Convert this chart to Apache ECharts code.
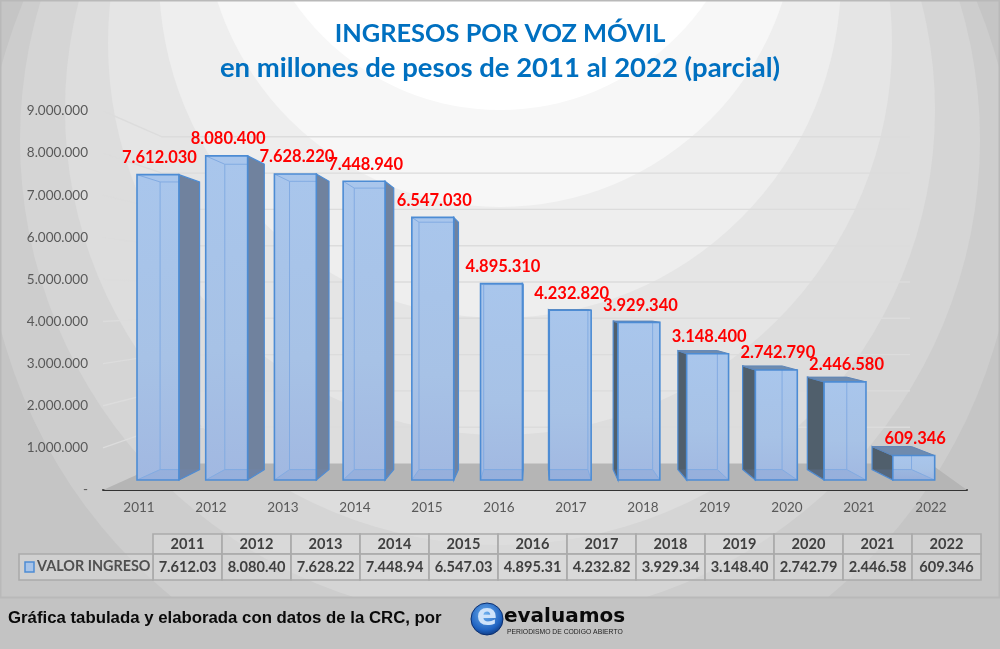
<!DOCTYPE html>
<html>
<head>
<meta charset="utf-8">
<style>
  html, body { margin: 0; padding: 0; background: #c3c3c3; }
  #chart { width: 1000px; height: 649px; }
</style>
<script src="https://cdn.jsdelivr.net/npm/echarts@6/dist/echarts.min.js"></script>
</head>
<body>
<div id="chart"></div>
<script>
const years = ["2011", "2012", "2013", "2014", "2015", "2016", "2017", "2018", "2019", "2020", "2021", "2022"];
const ingresos = [7612030, 8080400, 7628220, 7448940, 6547030, 4895310, 4232820, 3929340, 3148400, 2742790, 2446580, 609346];
const tableValues = ["7.612.03", "8.080.40", "7.628.22", "7.448.94", "6.547.03", "4.895.31", "4.232.82", "3.929.34", "3.148.40", "2.742.79", "2.446.58", "609.346"];
const yTicks = [0, 1000000, 2000000, 3000000, 4000000, 5000000, 6000000, 7000000, 8000000, 9000000];

// fake 3d: every bar recedes towards this point
const VP_X = 535;
const VP_Y = 300;
const DEPTH = 0.058;

const FONT = "Lato";
const back = (x, y) => [x + (VP_X - x) * DEPTH, y + (VP_Y - y) * DEPTH];
const dots = (v) => String(v).replace(/\B(?=(\d{3})+$)/g, ".");

function poly(points, fill, stroke, width) {
  return {
    type: "polygon",
    shape: { points },
    style: { fill: fill || "none", stroke: stroke || "none", lineWidth: width || 1 },
  };
}

function line(a, b, color) {
  return {
    type: "line",
    shape: { x1: a[0], y1: a[1], x2: b[0], y2: b[1] },
    style: { stroke: color, lineWidth: 1 },
  };
}

const frontFill = {
  type: "linear",
  x: 0,
  y: 0,
  x2: 0,
  y2: 1,
  colorStops: [
    { offset: 0, color: "#a9c6ec" },
    { offset: 0.6, color: "#a7c2e6" },
    { offset: 1, color: "#a1b8e1" },
  ],
};

function renderBar(params, api) {
  const idx = api.value(0);
  const top = api.coord([idx, api.value(1)]);
  const base = api.coord([idx, 0]);
  const w = api.size([1, 0])[0] * 0.61;
  const l = top[0] - w / 2;
  const r = top[0] + w / 2;
  const t = top[1];
  const b = base[1];

  const lt = back(l, t), rt = back(r, t), lb = back(l, b), rb = back(r, b);
  const edge = "#4d8cd4";
  const thin = "#82abe2";
  const kids = [];

  // visible side
  if (rt[0] > r + 0.5) {
    kids.push(poly([[r, t], rt, rb, [r, b]], "#70829e", edge, 1.2));
  }
  if (lt[0] < l - 0.5) {
    kids.push(poly([[l, t], lt, lb, [l, b]], "#505f6c", edge, 1.2));
  }
  // lid, only seen from above on the low bars
  if (lt[1] < t) {
    kids.push(poly([[l, t], [r, t], rt, lt], "#6f8bae", "#5f86b8", 1));
  }
  // front
  kids.push(poly([[l, t], [r, t], [r, b], [l, b]], frontFill));
  // box floor seen through the front
  kids.push(poly([[l, b], [r, b], rb, lb], "rgba(110,140,200,0.2)"));
  // back edges seen through the front
  const il = Math.max(lt[0], l);
  const ir = Math.min(rt[0], r);
  if (lt[0] > l + 0.5) kids.push(line([il, Math.max(lt[1], t)], [il, lb[1]], thin));
  if (rt[0] < r - 0.5) kids.push(line([ir, Math.max(rt[1], t)], [ir, rb[1]], thin));
  kids.push(line([il, lb[1]], [ir, rb[1]], thin));
  kids.push(line([l, b], lb[0] >= l ? lb : [l, b], thin));
  kids.push(line([r, b], rb[0] <= r ? rb : [r, b], thin));
  if (lt[1] > t) {
    kids.push(line([il, lt[1]], [ir, rt[1]], thin));
    kids.push(line([l, t], lt[0] >= l ? lt : [l, t], thin));
    kids.push(line([r, t], rt[0] <= r ? rt : [r, t], thin));
  }
  kids.push(poly([[l, t], [r, t], [r, b], [l, b]], null, edge, 1.6));

  return { type: "group", children: kids };
}

function renderLabel(params, api) {
  const idx = api.value(0);
  const top = api.coord([idx, api.value(1)]);
  return {
    type: "text",
    style: {
      text: dots(api.value(1)),
      x: top[0] + 1.5,
      y: top[1] - 17,
      align: "center",
      verticalAlign: "middle",
      fill: "#ff0000",
      font: "bold 16.5px " + FONT,
    },
  };
}

// floor and back wall lines, they start at the value axis and go to the wall
const WALL_LEFT = 162;
const WALL_RIGHT = 910;
const FLOOR_RIGHT = 930;
const WALL_BASE = 463.5;
const WALL_STEP = 36.3;

function renderWall(params, api) {
  const v = api.value(1);
  const p = api.coord([0, v]);
  const sys = params.coordSys;
  const wallY = WALL_BASE - (WALL_STEP * v) / 1000000;
  if (v === 0) {
    return {
      type: "polygon",
      shape: { points: [[sys.x, p[1]], [WALL_LEFT, wallY], [FLOOR_RIGHT, wallY], [sys.x + sys.width, p[1]]] },
      style: { fill: "#b5b5b5" },
    };
  }
  return {
    type: "polyline",
    shape: { points: [[sys.x, p[1]], [WALL_LEFT, wallY], [WALL_RIGHT, wallY]] },
    style: { fill: "none", stroke: "#dcdcdc", lineWidth: 1.4 },
  };
}

function backgroundRings() {
  const rings = [
    [199, 516, "#cdcdcd"],
    [140, 480, "#d5d5d5"],
    [110, 435, "#dddddd"],
    [43, 392, "#e5e5e5"],
    [-23, 341, "#eeeeee"],
    [-90, 297, "#f7f7f7"],
    [-140, 250, "#ffffff"],
  ];
  return rings.map(([cy, r, fill]) => ({
    type: "circle",
    silent: true,
    z: -10,
    shape: { cx: 500, cy, r },
    style: { fill },
  }));
}

function tableCell(x, y, w, h, text) {
  return [
    {
      type: "rect",
      silent: true,
      shape: { x, y, width: w, height: h },
      style: { fill: "rgba(222,222,222,0.45)", stroke: "#ababab", lineWidth: 1.6 },
    },
    {
      type: "text",
      silent: true,
      style: {
        text,
        x: x + w / 2,
        y: y + h / 2,
        align: "center",
        verticalAlign: "middle",
        fill: "#404040",
        font: "bold 14.6px " + FONT,
      },
    },
  ];
}

function dataTable() {
  const els = [];
  const colW = 69;
  const x0 = 153;
  years.forEach((year, i) => {
    els.push(...tableCell(x0 + i * colW, 534, colW, 20, year));
    els.push(...tableCell(x0 + i * colW, 554, colW, 26, tableValues[i]));
  });
  els.push({
    type: "rect",
    silent: true,
    shape: { x: 19, y: 554, width: 134, height: 26 },
    style: { fill: "rgba(222,222,222,0.45)", stroke: "#ababab", lineWidth: 1.6 },
  });
  els.push({
    type: "rect",
    silent: true,
    shape: { x: 25, y: 562, width: 9, height: 10 },
    style: { fill: "#a8c4e8", stroke: "#4d8cd4", lineWidth: 1.5 },
  });
  els.push({
    type: "text",
    silent: true,
    style: {
      text: "VALOR INGRESO",
      x: 37,
      y: 566,
      verticalAlign: "middle",
      fill: "#505050",
      font: "bold 14.4px " + FONT,
    },
  });
  return els;
}

function footer() {
  return [
    {
      type: "rect",
      silent: true,
      shape: { x: 0, y: 598, width: 1000, height: 51 },
      style: { fill: "#c3c3c3" },
    },
    {
      type: "rect",
      silent: true,
      shape: { x: 0.5, y: 0.5, width: 999, height: 597 },
      style: { fill: "none", stroke: "#b9b9b9", lineWidth: 2 },
    },
    {
      type: "text",
      silent: true,
      style: {
        text: "Gráfica tabulada y elaborada con datos de la CRC, por",
        x: 8,
        y: 618,
        verticalAlign: "middle",
        fill: "#0a0a0a",
        font: "bold 16.8px 'Liberation Sans'",
      },
    },
    {
      type: "circle",
      silent: true,
      shape: { cx: 487, cy: 619, r: 16 },
      style: {
        fill: {
          type: "radial",
          x: 0.45,
          y: 0.35,
          r: 0.7,
          colorStops: [
            { offset: 0, color: "#6fb0ee" },
            { offset: 0.7, color: "#1f62c0" },
            { offset: 1, color: "#0b2f70" },
          ],
        },
        stroke: "#0b2f70",
        lineWidth: 1,
      },
    },
    {
      type: "text",
      silent: true,
      style: {
        text: "e",
        x: 487,
        y: 617,
        align: "center",
        verticalAlign: "middle",
        fill: "#cfe3fa",
        font: "bold 30px 'DejaVu Sans'",
      },
    },
    {
      type: "text",
      silent: true,
      style: {
        text: "evaluamos",
        x: 504,
        y: 617,
        verticalAlign: "middle",
        fill: "#0a0a0a",
        font: "bold 20px 'DejaVu Sans'",
      },
    },
    {
      type: "text",
      silent: true,
      style: {
        text: "PERIODISMO DE CODIGO ABIERTO",
        x: 507,
        y: 632,
        verticalAlign: "middle",
        fill: "#222222",
        font: "6.8px 'Liberation Sans'",
      },
    },
  ];
}

const chart = echarts.init(document.getElementById("chart"), null, { renderer: "canvas" });

chart.setOption({
  animation: false,
  backgroundColor: "#c5c5c5",
  title: [
    {
      text: "INGRESOS POR VOZ MÓVIL",
      left: "center",
      top: 16,
      textStyle: { color: "#0070c0", fontFamily: FONT, fontWeight: "bold", fontSize: 25.4 },
    },
    {
      text: "en millones de pesos de 2011 al 2022 (parcial)",
      left: "center",
      top: 49,
      textStyle: { color: "#0070c0", fontFamily: FONT, fontWeight: "bold", fontSize: 27.5 },
    },
  ],
  grid: [
    { left: 103, right: 33, top: 111, bottom: 159 },
    { left: 123.6, right: 51.9, top: 119, bottom: 169 },
  ],
  xAxis: [
    {
      type: "category",
      gridIndex: 0,
      data: years,
      axisLine: { lineStyle: { color: "#333333", width: 2 } },
      axisTick: { show: false },
      axisLabel: { color: "#595959", fontFamily: FONT, fontSize: 13.5, margin: 11 },
    },
    { type: "category", gridIndex: 1, data: years, show: false },
  ],
  yAxis: [
    {
      type: "value",
      gridIndex: 0,
      min: 0,
      max: 9000000,
      interval: 1000000,
      axisLine: { show: false },
      axisTick: { show: false },
      splitLine: { show: false },
      axisLabel: {
        color: "#595959",
        fontFamily: FONT,
        fontSize: 13.5,
        margin: 15,
        formatter: (v) => (v === 0 ? "-" : dots(v)),
      },
    },
    { type: "value", gridIndex: 1, min: 0, max: 9000000, show: false, splitLine: { show: false } },
  ],
  series: [
    {
      type: "custom",
      name: "pared",
      xAxisIndex: 0,
      yAxisIndex: 0,
      z: 1,
      silent: true,
      clip: false,
      encode: { x: 0, y: 1 },
      data: yTicks.map((v) => [years[0], v]),
      renderItem: renderWall,
    },
    {
      type: "custom",
      name: "VALOR INGRESO",
      xAxisIndex: 1,
      yAxisIndex: 1,
      z: 3,
      clip: false,
      encode: { x: 0, y: 1 },
      data: years.map((y, i) => [y, ingresos[i]]),
      renderItem: renderBar,
    },
    {
      type: "custom",
      name: "etiquetas",
      xAxisIndex: 1,
      yAxisIndex: 1,
      z: 4,
      clip: false,
      encode: { x: 0, y: 1 },
      data: years.map((y, i) => [y, ingresos[i]]),
      renderItem: renderLabel,
    },
  ],
  graphic: { elements: [...backgroundRings(), ...dataTable(), ...footer()] },
});
</script>
</body>
</html>
